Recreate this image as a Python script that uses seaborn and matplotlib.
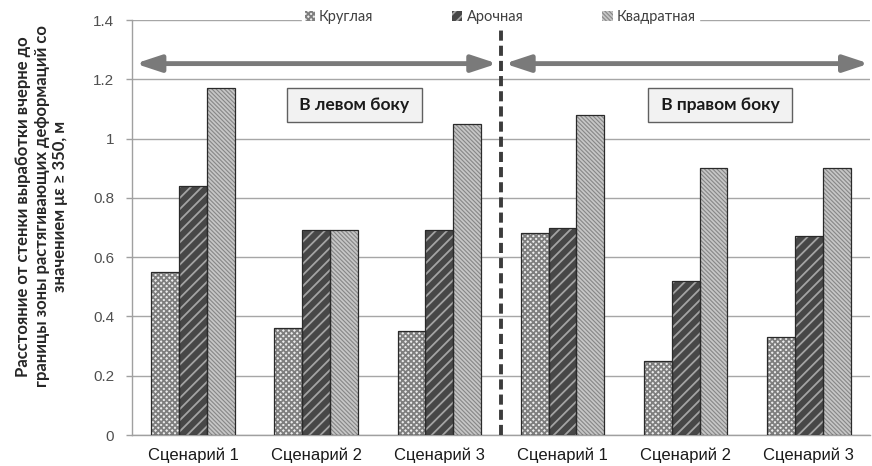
import matplotlib
matplotlib.use('Agg')
import matplotlib.pyplot as plt
from matplotlib.patches import Patch, Rectangle
import pandas as pd
import seaborn as sns

# data
scenarios = ['Сценарий 1', 'Сценарий 2', 'Сценарий 3', 'Сценарий 1', 'Сценарий 2', 'Сценарий 3']
shapes = ['Круглая', 'Арочная', 'Квадратная']
round_vals = [0.55, 0.36, 0.35, 0.68, 0.25, 0.33]
arch_vals = [0.84, 0.69, 0.69, 0.70, 0.52, 0.67]
square_vals = [1.17, 0.69, 1.05, 1.08, 0.90, 0.90]
side_labels = ['В левом боку', 'В правом боку']
y_ticks = [0, 0.2, 0.4, 0.6, 0.8, 1, 1.2, 1.4]
y_tick_labels = ['0', '0.2', '0.4', '0.6', '0.8', '1', '1.2', '1.4']
ylabel = ('Расстояние от стенки выработки вчерне до\n'
          'границы зоны растягивающих деформаций со\n'
          'значением με ≥ 350, м')

# long table for seaborn
rows = []
for vals, shape in zip([round_vals, arch_vals, square_vals], shapes):
    for i, v in enumerate(vals):
        rows.append({'group': i, 'shape': shape, 'value': v})
df = pd.DataFrame(rows)

sns.set_style('white')
plt.rcParams['font.family'] = ['Liberation Sans', 'DejaVu Sans']
plt.rcParams['hatch.linewidth'] = 1.3

# face colour, hatch, hatch colour per shape
styles = {
    'Круглая': ('#ececec', 'xxxxxx', '#7e7e7e'),
    'Арочная': ('#474747', '///', '#a4a4a4'),
    'Квадратная': ('#878787', '\\' * 8, '#c6c6c6'),
}

fig, ax = plt.subplots(figsize=(8.72, 4.66), dpi=100)
fig.subplots_adjust(left=0.151, right=0.998, top=0.957, bottom=0.0665)

sns.barplot(data=df, x='group', y='value', hue='shape', hue_order=shapes,
            palette={s: styles[s][0] for s in shapes}, width=0.68,
            legend=False, ax=ax, zorder=3)

# hatch colour follows the edge colour, so draw the dark outline separately
for cont, shape in zip(ax.containers, shapes):
    face, hatch, hcol = styles[shape]
    for p in cont:
        p.set_hatch(hatch)
        p.set_edgecolor(hcol)
        p.set_linewidth(0)
        ax.add_patch(Rectangle(p.get_xy(), p.get_width(), p.get_height(),
                               fill=False, edgecolor='#2a2a2a', lw=0.9, zorder=4))

ax.set_xlim(-0.5, 5.5)
ax.set_ylim(0, 1.4)
ax.set_yticks(y_ticks)
ax.set_yticklabels(y_tick_labels)
ax.set_xticks(range(len(scenarios)))
ax.set_xticklabels(scenarios, fontsize=12)
ax.set_xticks([i - 0.5 for i in range(len(scenarios) + 1)], minor=True)
ax.tick_params(axis='x', which='major', length=0, pad=9, colors='#1a1a1a')
ax.tick_params(axis='x', which='minor', length=5, width=1, color='#a0a0a0', direction='out')
ax.tick_params(axis='y', length=4.5, width=1, color='#a0a0a0', pad=8, labelsize=11,
               labelcolor='#505050', direction='out', left=True)
ax.set_xlabel('')
ax.set_ylabel('')

ax.grid(axis='y', color='#a6a6a6', lw=1.0, zorder=0)
ax.set_axisbelow(True)
for side in ['top', 'right']:
    ax.spines[side].set_visible(False)
for side in ['left', 'bottom']:
    ax.spines[side].set_color('#a0a0a0')
    ax.spines[side].set_linewidth(1.0)

fig.text(0.048, 0.557, ylabel, rotation=90, ha='center', va='center',
         multialignment='center', fontsize=12, fontweight='bold',
         family=['Lato', 'DejaVu Sans'], color='#262626', linespacing=1.2)

# separator and region arrows
ax.axvline(2.5, color='#3c3c3c', lw=2.8, linestyle=(0, (2.6, 1.3)), zorder=5)
arrow = dict(arrowstyle='<|-|>,head_length=1.0,head_width=0.33', color='#7a7a7a',
             lw=3.5, shrinkA=0, shrinkB=0, mutation_scale=15)
ax.annotate('', xy=(-0.47, 1.253), xytext=(2.47, 1.253), arrowprops=arrow, zorder=5)
ax.annotate('', xy=(2.53, 1.253), xytext=(5.49, 1.253), arrowprops=arrow, zorder=5)

box = dict(boxstyle='square,pad=0.5', facecolor='#f2f2f2', edgecolor='#606060', lw=1)
for xpos, label in zip([1.31, 4.28], side_labels):
    ax.text(xpos, 1.113, ' ' + label + ' ', ha='center', va='center', fontsize=12.5,
            fontweight='bold', family=['Lato', 'DejaVu Sans'], color='#1a1a1a',
            bbox=box, zorder=6)

handles = [Patch(facecolor=styles[s][0], hatch=styles[s][1], edgecolor=styles[s][2], lw=0)
           for s in shapes]
leg = ax.legend(handles, shapes, loc='center', bbox_to_anchor=(0.499, 1.007), ncol=3,
                frameon=True, fancybox=False, edgecolor='white', facecolor='white',
                framealpha=1, handlelength=0.7, handleheight=0.7,
                handletextpad=0.3, columnspacing=5.4, borderpad=0.2,
                prop={'family': ['Lato', 'DejaVu Sans'], 'size': 10.5})
leg.set_zorder(7)
for t in leg.get_texts():
    t.set_color('#404040')

fig.savefig('out.png', dpi=100)
